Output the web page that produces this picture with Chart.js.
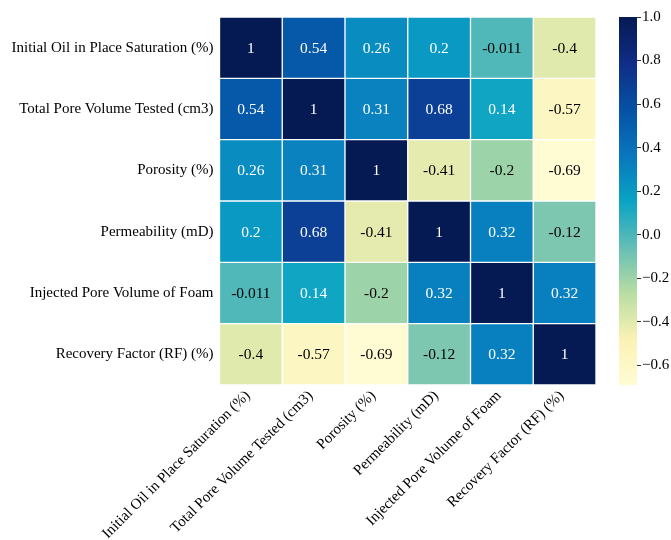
<!DOCTYPE html>
<html>
<head>
<meta charset="utf-8">
<script src="https://cdn.jsdelivr.net/npm/chart.js@4.4.1/dist/chart.umd.min.js"></script>
<style>
  html, body { margin: 0; padding: 0; background: #fff; }
  #wrap { position: relative; width: 671px; height: 540px; }
  #wrap canvas { position: absolute; left: 0; top: 0; }
</style>
</head>
<body>
<div id="wrap">
  <canvas id="heat" width="671" height="540"></canvas>
  <canvas id="cbar" width="671" height="540"></canvas>
</div>
<script>
// Variable names (rows top to bottom, columns left to right)
const variables = [
  'Initial Oil in Place Saturation (%)',
  'Total Pore Volume Tested (cm3)',
  'Porosity (%)',
  'Permeability (mD)',
  'Injected Pore Volume of Foam',
  'Recovery Factor (RF) (%)'
];

// Correlation coefficients, one row per variable
const corrInitialOil  = [1, 0.54, 0.26, 0.2, -0.011, -0.4];
const corrPoreVolume  = [0.54, 1, 0.31, 0.68, 0.14, -0.57];
const corrPorosity    = [0.26, 0.31, 1, -0.41, -0.2, -0.69];
const corrPermeab     = [0.2, 0.68, -0.41, 1, 0.32, -0.12];
const corrInjectedPV  = [-0.011, 0.14, -0.2, 0.32, 1, 0.32];
const corrRecovery    = [-0.4, -0.57, -0.69, -0.12, 0.32, 1];
const matrix = [corrInitialOil, corrPoreVolume, corrPorosity, corrPermeab, corrInjectedPV, corrRecovery];

// Colour scale range and colour-bar ticks
const scaleMin = -0.69;
const scaleMax = 1.0;
const colorbarTicks = [-0.6, -0.4, -0.2, 0.0, 0.2, 0.4, 0.6, 0.8, 1.0];

// Yellow-green-blue colour map, evenly spaced stops from low to high
const colormapStops = [
  [255, 252, 212],
  [250, 242, 180],
  [184, 221, 162],
  [100, 190, 182],
  [10, 163, 196],
  [8, 118, 189],
  [6, 81, 164],
  [16, 45, 135],
  [5, 25, 82]
];

const FONT = "'Liberation Serif', 'Times New Roman', serif";

function colorRgb(v) {
  let t = (v - scaleMin) / (scaleMax - scaleMin);
  t = Math.max(0, Math.min(1, t));
  const pos = t * (colormapStops.length - 1);
  const i = Math.min(Math.floor(pos), colormapStops.length - 2);
  const f = pos - i;
  const a = colormapStops[i], b = colormapStops[i + 1];
  return [0, 1, 2].map(k => a[k] + (b[k] - a[k]) * f);
}
function rgbStr(c) {
  return `rgb(${c.map(x => Math.round(x)).join(',')})`;
}
function colorOf(v) {
  return rgbStr(colorRgb(v));
}
function luminance(rgb) {
  const lin = rgb.map(x => {
    x = x / 255;
    return x <= 0.03928 ? x / 12.92 : Math.pow((x + 0.055) / 1.055, 2.4);
  });
  return 0.2126 * lin[0] + 0.7152 * lin[1] + 0.0722 * lin[2];
}
function fmtG(v) {
  return String(Number(v.toPrecision(2)));
}

// One floating-bar dataset per row: each cell spans [row, row + 1]
const datasets = matrix.map((row, r) => ({
  data: row.map(() => [r, r + 1]),
  backgroundColor: row.map(colorOf),
  borderColor: '#ffffff',
  borderWidth: 1,
  borderSkipped: false,
  barPercentage: 1,
  categoryPercentage: 1,
  grouped: false
}));

// Writes each coefficient in the middle of its cell
const cellLabels = {
  id: 'cellLabels',
  afterDatasetsDraw(chart) {
    const ctx = chart.ctx;
    ctx.save();
    ctx.font = `15.5px ${FONT}`;
    ctx.textAlign = 'center';
    ctx.textBaseline = 'middle';
    chart.data.datasets.forEach((ds, r) => {
      const meta = chart.getDatasetMeta(r);
      meta.data.forEach((bar, c) => {
        const v = matrix[r][c];
        const p = bar.getProps(['x', 'y', 'base'], true);
        ctx.fillStyle = luminance(colorRgb(v)) > 0.35 ? '#000000' : '#ffffff';
        ctx.fillText(fmtG(v), p.x, (p.y + p.base) / 2 + 1);
      });
    });
    ctx.restore();
  }
};

new Chart(document.getElementById('heat'), {
  type: 'bar',
  data: { labels: variables, datasets },
  options: {
    responsive: false,
    animation: false,
    layout: { padding: { top: 17, right: 75, left: 0, bottom: 0 } },
    plugins: { legend: { display: false }, tooltip: { enabled: false } },
    scales: {
      x: {
        type: 'category',
        offset: true,
        grid: { display: false, drawTicks: false },
        border: { display: false },
        ticks: {
          autoSkip: false,
          minRotation: 45,
          maxRotation: 45,
          padding: 2,
          labelOffset: -3,
          color: '#000',
          font: { family: FONT, size: 15 }
        },
        afterFit(scale) { scale.height = 155; }
      },
      y: {
        type: 'linear',
        min: 0,
        max: 6,
        reverse: true,
        grid: { display: false, drawTicks: false },
        border: { display: false },
        afterBuildTicks(scale) {
          scale.ticks = variables.map((_, i) => ({ value: i + 0.5 }));
        },
        ticks: {
          padding: 6,
          color: '#000',
          font: { family: FONT, size: 15 },
          callback: v => variables[Math.round(v - 0.5)]
        },
        afterFit(scale) { scale.width = 219.5; }
      }
    }
  },
  plugins: [cellLabels]
});

// Paints the colour map into the colour-bar area
const gradientBar = {
  id: 'gradientBar',
  beforeDatasetsDraw(chart) {
    const { ctx, chartArea: a } = chart;
    const g = ctx.createLinearGradient(0, a.bottom, 0, a.top);
    colormapStops.forEach((c, i) => g.addColorStop(i / (colormapStops.length - 1), rgbStr(c)));
    ctx.save();
    ctx.fillStyle = g;
    ctx.fillRect(a.left, a.top, a.right - a.left, a.bottom - a.top);
    ctx.restore();
  }
};

new Chart(document.getElementById('cbar'), {
  type: 'bar',
  data: { labels: [''], datasets: [{ data: [] }] },
  options: {
    responsive: false,
    animation: false,
    layout: { padding: { top: 17, left: 619, right: 0, bottom: 155 } },
    plugins: { legend: { display: false }, tooltip: { enabled: false } },
    scales: {
      x: { display: false },
      y: {
        type: 'linear',
        position: 'right',
        min: scaleMin,
        max: scaleMax,
        afterBuildTicks(scale) {
          scale.ticks = colorbarTicks.map(v => ({ value: v }));
        },
        grid: { drawOnChartArea: false, drawTicks: true, tickLength: 4, color: '#333', lineWidth: 1 },
        border: { display: false },
        ticks: {
          padding: 1,
          color: '#000',
          font: { family: FONT, size: 15 },
          callback: v => v.toFixed(1).replace('-', '\u2212')
        },
        afterFit(scale) { scale.width = 34; }
      }
    }
  },
  plugins: [gradientBar]
});
</script>
</body>
</html>
